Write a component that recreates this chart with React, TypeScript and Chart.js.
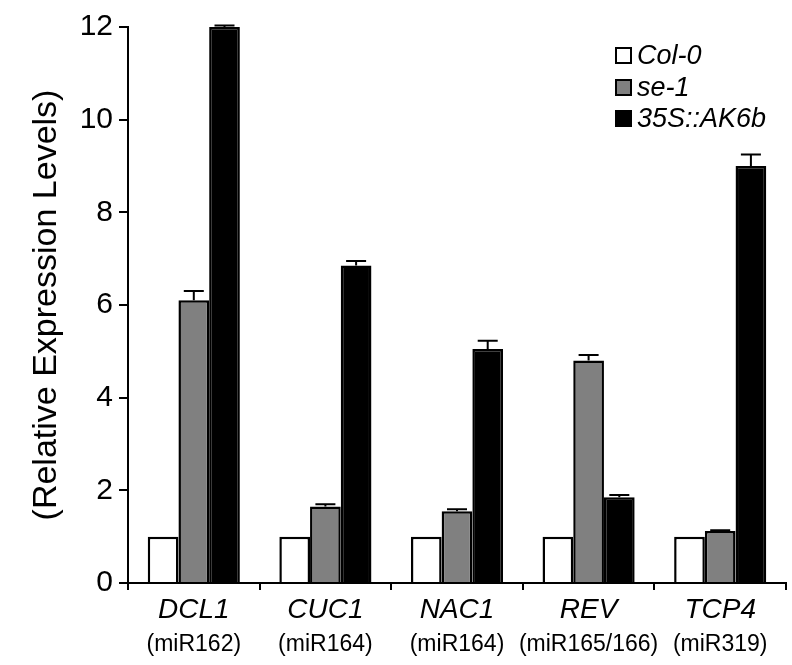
import React, { useEffect, useRef } from "react";
import { Chart, registerables } from "chart.js";

Chart.register(...registerables);

const genes = ["DCL1", "CUC1", "NAC1", "REV", "TCP4"];
const mirnas = ["(miR162)", "(miR164)", "(miR164)", "(miR165/166)", "(miR319)"];
const seriesNames = ["Col-0", "se-1", "35S::AK6b"];
const col0 = [1, 1, 1, 1, 1];
const se1 = [6.1, 1.65, 1.55, 4.8, 1.12];
const ak6b = [12.0, 6.85, 5.05, 1.85, 9.0];
const col0Err = [0, 0, 0, 0, 0];
const se1Err = [0.2, 0.05, 0.04, 0.12, 0.02];
const ak6bErr = [0.03, 0.1, 0.18, 0.05, 0.25];
const yTicks = [0, 2, 4, 6, 8, 10, 12];
const colors = ["#ffffff", "#808080", "#000000"];

const FONT = "'Liberation Sans', Arial, sans-serif";

const extrasPlugin = {
  id: "extras",
  afterDatasetsDraw(chart: any) {
    const ctx = chart.ctx;
    const errs = [col0Err, se1Err, ak6bErr];
    const yScale = chart.scales.y;
    ctx.save();
    ctx.strokeStyle = "#000";
    ctx.lineWidth = 2;
    chart.data.datasets.forEach((ds: any, di: number) => {
      const meta = chart.getDatasetMeta(di);
      meta.data.forEach((bar: any, i: number) => {
        const e = errs[di][i];
        if (!e) return;
        const v = ds.data[i];
        const yTop = yScale.getPixelForValue(v + e);
        const yBar = yScale.getPixelForValue(v);
        ctx.beginPath();
        ctx.moveTo(bar.x, yBar);
        ctx.lineTo(bar.x, yTop);
        ctx.moveTo(bar.x - 10, yTop);
        ctx.lineTo(bar.x + 10, yTop);
        ctx.stroke();
      });
    });
    ctx.restore();
  },
  afterDraw(chart: any) {
    const ctx = chart.ctx;
    const xScale = chart.scales.x;
    const bottom = chart.chartArea.bottom;
    ctx.save();
    ctx.fillStyle = "#000";
    ctx.textAlign = "center";
    ctx.textBaseline = "middle";
    genes.forEach((g, i) => {
      const x = xScale.getPixelForValue(i);
      ctx.font = `italic 28px ${FONT}`;
      ctx.fillText(g, x, bottom + 27);
      ctx.font = `23px ${FONT}`;
      ctx.fillText(mirnas[i], x, bottom + 62);
    });
    // legend
    const lx = 616;
    const ly = [55, 87, 118];
    seriesNames.forEach((n, i) => {
      ctx.fillStyle = colors[i];
      ctx.fillRect(lx, ly[i] - 7, 15, 15);
      ctx.strokeStyle = "#000";
      ctx.lineWidth = 2;
      ctx.strokeRect(lx, ly[i] - 7, 15, 15);
      ctx.fillStyle = "#000";
      ctx.textAlign = "left";
      ctx.font = `italic 27px ${FONT}`;
      ctx.fillText(n, lx + 21, ly[i] + 1);
    });
    ctx.restore();
  },
};

export default function App() {
  const ref = useRef<HTMLCanvasElement>(null);
  useEffect(() => {
    if (!ref.current) return;
    const chart = new Chart(ref.current, {
      type: "bar",
      data: {
        labels: genes,
        datasets: [
          { label: seriesNames[0], data: col0, backgroundColor: colors[0] },
          { label: seriesNames[1], data: se1, backgroundColor: colors[1] },
          { label: seriesNames[2], data: ak6b, backgroundColor: colors[2] },
        ].map((d) => ({
          ...d,
          borderColor: "#000",
          borderWidth: 2.5,
          categoryPercentage: 0.7,
          barPercentage: 1.0,
        })),
      },
      options: {
        animation: false,
        responsive: false,
        maintainAspectRatio: false,
        layout: { padding: { left: 0, top: 27, right: 6, bottom: 0 } },
        plugins: {
          legend: { display: false },
          tooltip: { enabled: false },
          title: { display: false },
        },
        scales: {
          x: {
            offset: true,
            grid: {
              offset: true,
              drawOnChartArea: false,
              drawTicks: true,
              tickLength: 7,
              color: "#000",
              lineWidth: 2,
            },
            border: { display: true, color: "#000", width: 2 },
            ticks: { callback: () => "", font: { size: 10 } },
            afterFit: (s: any) => {
              s.height = 82;
            },
          },
          y: {
            min: 0,
            max: 12,
            afterBuildTicks: (s: any) => {
              s.ticks = yTicks.map((v) => ({ value: v }));
            },
            grid: {
              drawOnChartArea: false,
              drawTicks: true,
              tickLength: 9,
              color: "#000",
              lineWidth: 2,
            },
            border: { display: true, color: "#000", width: 2 },
            ticks: {
              color: "#000",
              padding: 6,
              font: { family: FONT, size: 30 },
            },
            title: {
              display: true,
              text: "(Relative Expression Levels)",
              color: "#000",
              font: { family: FONT, size: 34 },
              padding: { top: 26, bottom: 4 },
            },
            afterFit: (s: any) => {
              s.width = 128;
            },
          },
        },
      },
      plugins: [extrasPlugin],
    });
    return () => chart.destroy();
  }, []);
  return (
    <div style={{ position: "fixed", left: 0, top: 0, width: 792, height: 665, background: "#fff" }}>
      <canvas ref={ref} width={792} height={665} style={{ width: 792, height: 665 }} />
    </div>
  );
}
